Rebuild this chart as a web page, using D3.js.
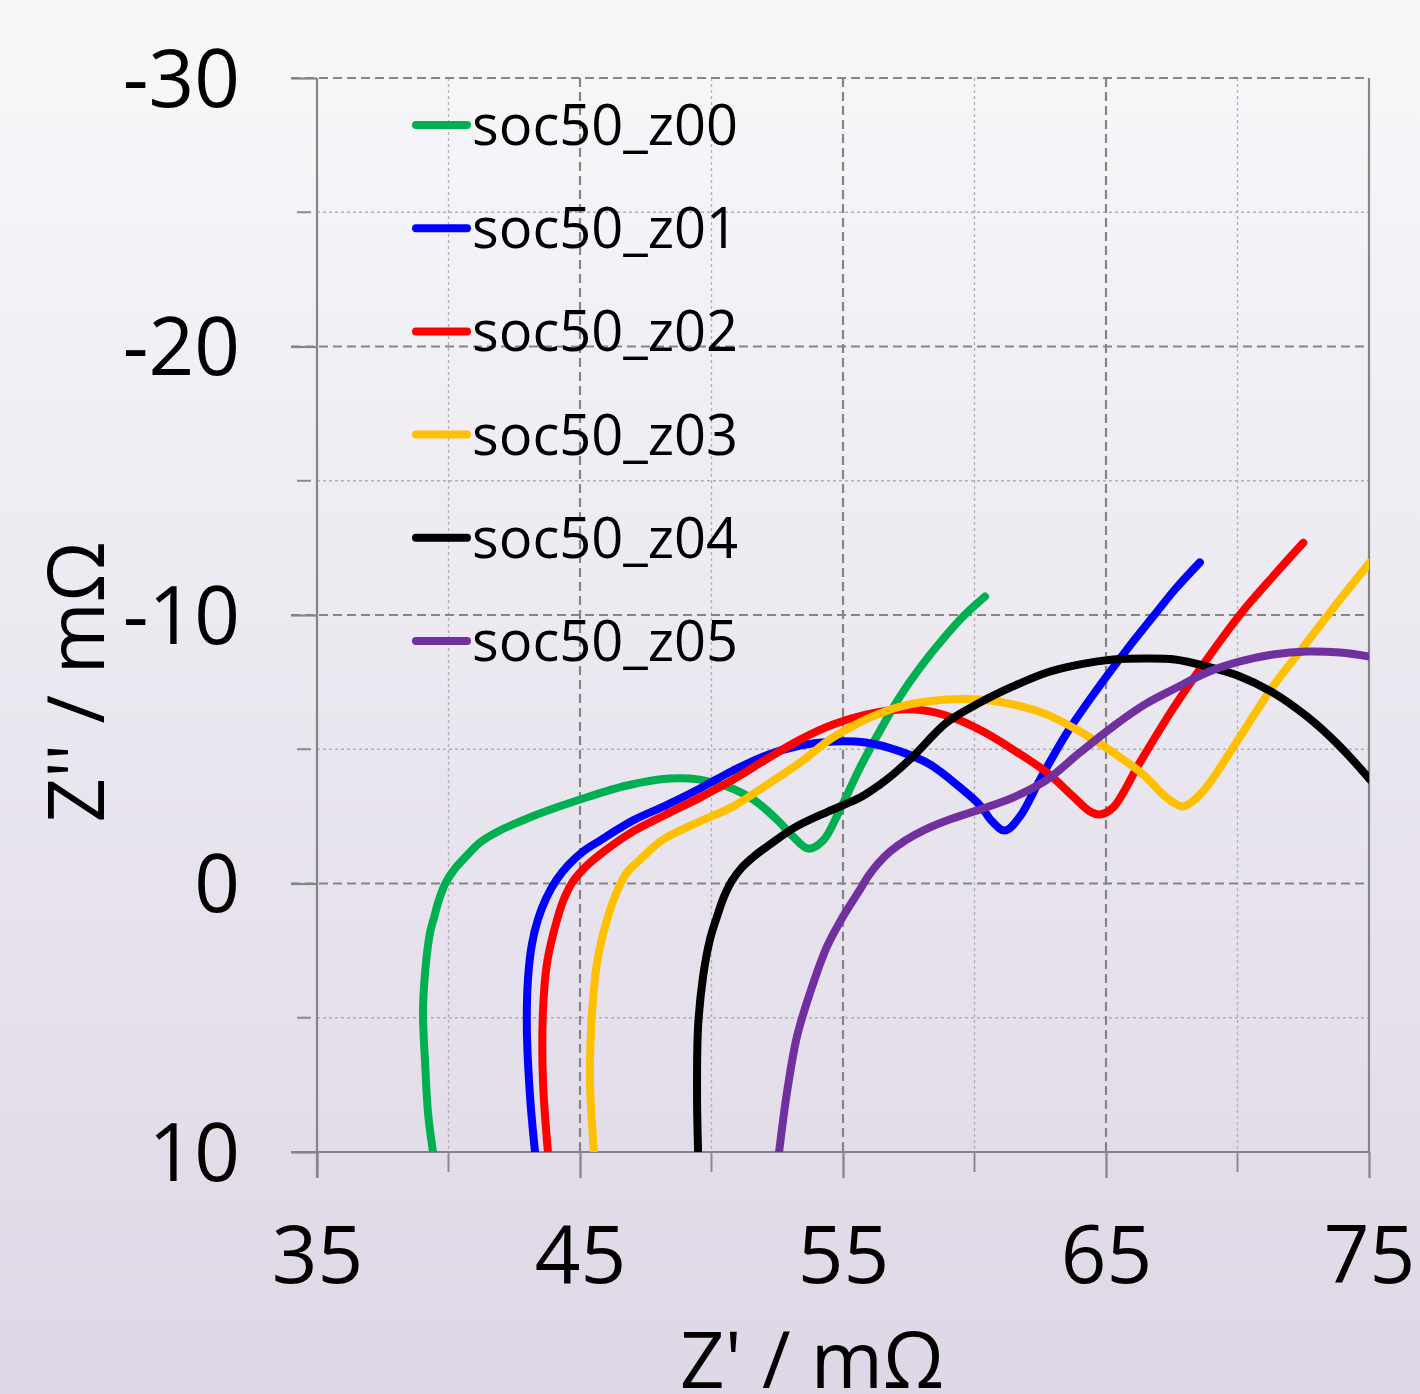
<!DOCTYPE html>
<html>
<head>
<meta charset="utf-8">
<script src="https://cdn.jsdelivr.net/npm/d3@7"></script>
<style>
  body { margin: 0; }
  svg text { font-family: "Open Sans", "Noto Sans", sans-serif; fill: #000; }
</style>
</head>
<body>
<svg id="chart" width="1420" height="1394"></svg>
<script>
// Nyquist plot, soc50 series
const seriesNames = ['soc50_z00', 'soc50_z01', 'soc50_z02', 'soc50_z03', 'soc50_z04', 'soc50_z05'];
const seriesColors = ['#00b050', '#0000ff', '#ff0000', '#ffc000', '#000000', '#7030a0'];

// [Z' (mOhm), Z'' (mOhm)]
const z00 = [[39.41,10.0],[39.22,8.53],[39.11,6.67],[39.03,4.80],[39.11,3.31],[39.30,1.82],[39.45,1.27],[39.64,0.60],
  [39.90,-0.04],[40.25,-0.56],[40.67,-1.01],[41.20,-1.53],[41.88,-1.94],[42.72,-2.31],[43.67,-2.68],[45.00,-3.13],
  [46.79,-3.65],[48.42,-3.91],[49.56,-3.87],[50.59,-3.61],[51.58,-3.13],[52.49,-2.38],[53.10,-1.75],[53.67,-1.30],
  [54.24,-1.60],[54.89,-2.76],[55.65,-4.32],[56.41,-5.70],[57.17,-6.97],[57.93,-8.04],[58.88,-9.20],[59.64,-10.02],
  [60.40,-10.69]];
const z01 = [[43.29,10.0],[43.10,7.93],[42.98,5.44],[43.02,3.58],[43.17,2.27],[43.40,1.34],[43.71,0.56],[44.09,-0.11],
  [44.54,-0.67],[45.11,-1.19],[45.76,-1.60],[47.02,-2.35],[48.27,-2.91],[49.56,-3.54],[50.82,-4.21],[52.07,-4.77],
  [53.37,-5.14],[54.62,-5.29],[55.87,-5.25],[57.17,-4.92],[58.31,-4.43],[59.45,-3.58],[60.21,-2.91],[60.67,-2.31],
  [61.16,-1.97],[61.73,-2.50],[62.49,-3.87],[63.52,-5.62],[64.66,-7.23],[65.80,-8.72],[66.79,-9.94],[67.62,-10.95],
  [68.57,-11.96]];
const z02 = [[43.78,10.0],[43.59,7.30],[43.59,4.80],[43.75,2.94],[44.13,1.34],[44.43,0.48],[44.73,-0.07],[45.19,-0.60],
  [45.76,-1.08],[47.02,-1.94],[48.27,-2.57],[49.56,-3.20],[50.82,-3.87],[52.07,-4.62],[53.37,-5.36],[54.62,-5.92],
  [55.87,-6.29],[57.17,-6.48],[58.31,-6.41],[59.45,-6.07],[60.40,-5.62],[61.46,-4.99],[62.76,-4.13],[63.75,-3.24],
  [64.39,-2.68],[64.77,-2.57],[65.27,-2.83],[66.29,-4.51],[67.56,-6.53],[68.83,-8.34],[70.10,-10.02],[71.36,-11.45],
  [72.50,-12.69]];
const z03 = [[45.53,10.0],[45.38,7.30],[45.46,4.80],[45.65,2.94],[46.03,1.34],[46.44,0.22],[46.79,-0.41],[47.28,-0.89],
  [48.16,-1.64],[49.56,-2.31],[50.82,-2.87],[52.07,-3.65],[53.37,-4.51],[54.62,-5.44],[55.87,-6.11],[57.17,-6.59],
  [58.95,-6.85],[60.21,-6.85],[61.46,-6.67],[62.76,-6.29],[64.01,-5.66],[65.27,-4.88],[66.41,-4.06],[67.17,-3.31],
  [67.62,-2.98],[67.93,-2.87],[68.38,-3.13],[68.84,-3.61],[70.10,-5.47],[71.35,-7.34],[72.64,-8.98],[73.90,-10.58],
  [75.04,-11.96]];
const z04 = [[49.49,10.0],[49.45,7.78],[49.49,5.33],[49.68,3.46],[49.94,2.09],[50.21,1.23],[50.48,0.48],[50.78,-0.11],
  [51.16,-0.60],[51.65,-1.04],[52.22,-1.45],[53.17,-2.09],[54.43,-2.68],[55.65,-3.20],[56.41,-3.69],[56.90,-4.06],
  [57.66,-4.73],[58.95,-6.00],[60.21,-6.74],[61.46,-7.34],[62.76,-7.86],[64.01,-8.16],[65.27,-8.34],[66.56,-8.38],
  [67.62,-8.34],[68.84,-8.08],[70.10,-7.71],[71.35,-7.11],[72.64,-6.22],[73.90,-5.10],[75.04,-3.87]];
const z05 = [[52.57,10.0],[52.87,7.78],[53.25,5.70],[53.75,4.06],[54.39,2.35],[55.00,1.23],[55.65,0.22],[55.95,-0.26],
  [56.33,-0.74],[56.79,-1.19],[57.36,-1.60],[58.12,-2.01],[58.95,-2.35],[60.21,-2.76],[61.46,-3.20],[62.76,-3.87],
  [64.01,-4.88],[65.27,-5.85],[66.48,-6.67],[67.62,-7.26],[68.84,-7.86],[70.10,-8.27],[71.35,-8.53],[72.64,-8.64],
  [73.90,-8.60],[75.04,-8.45]];
const seriesData = [z00, z01, z02, z03, z04, z05];

const xMajor = [35, 45, 55, 65, 75];
const xMinor = [40, 50, 60, 70];
const yMajor = [-30, -20, -10, 0, 10];
const yMinor = [-25, -15, -5, 5];

const svg = d3.select('#chart');

// background gradient
const defs = svg.append('defs');
const grad = defs.append('linearGradient').attr('id', 'bg')
    .attr('x1', 0).attr('y1', 0).attr('x2', 0).attr('y2', 1);
grad.append('stop').attr('offset', '0%').attr('stop-color', '#f8f8fa');
grad.append('stop').attr('offset', '100%').attr('stop-color', '#ded7e6');
svg.append('rect').attr('width', 1420).attr('height', 1394).attr('fill', 'url(#bg)');

const x = d3.scaleLinear().domain([35, 75]).range([317, 1369]);
const y = d3.scaleLinear().domain([-30, 10]).range([78, 1152]);

defs.append('clipPath').attr('id', 'plot')
    .append('rect').attr('x', 317).attr('y', 60).attr('width', 1052).attr('height', 1092);

// minor grid
svg.selectAll('.vminor').data(xMinor).enter().append('line')
    .attr('x1', d => x(d)).attr('x2', d => x(d)).attr('y1', 78).attr('y2', 1152)
    .attr('stroke', '#b0b0b4').attr('stroke-width', 1.3).attr('stroke-dasharray', '3,3');
svg.selectAll('.hminor').data(yMinor).enter().append('line')
    .attr('x1', 317).attr('x2', 1369).attr('y1', d => y(d)).attr('y2', d => y(d))
    .attr('stroke', '#b0b0b4').attr('stroke-width', 1.3).attr('stroke-dasharray', '3,3');
// minor ticks
svg.selectAll('.vminortick').data(xMinor).enter().append('line')
    .attr('x1', d => x(d)).attr('x2', d => x(d)).attr('y1', 1152).attr('y2', 1172)
    .attr('stroke', '#8a8a8a').attr('stroke-width', 2);
svg.selectAll('.hminortick').data(yMinor).enter().append('line')
    .attr('x1', 297).attr('x2', 311).attr('y1', d => y(d)).attr('y2', d => y(d))
    .attr('stroke', '#8a8a8a').attr('stroke-width', 2);

// major grid
svg.selectAll('.vmajor').data(xMajor.slice(1, 4)).enter().append('line')
    .attr('x1', d => x(d)).attr('x2', d => x(d)).attr('y1', 78).attr('y2', 1152)
    .attr('stroke', '#858585').attr('stroke-width', 2.2).attr('stroke-dasharray', '9,5');
svg.selectAll('.hmajor').data(yMajor.slice(0, 4)).enter().append('line')
    .attr('x1', 291).attr('x2', 1369).attr('y1', d => y(d)).attr('y2', d => y(d))
    .attr('stroke', '#858585').attr('stroke-width', 2.2).attr('stroke-dasharray', '9,5');
// right border
svg.append('line').attr('x1', 1369).attr('x2', 1369).attr('y1', 78).attr('y2', 1152)
    .attr('stroke', '#858585').attr('stroke-width', 2.2);

// axes
const xAxis = d3.axisBottom(x).tickValues(xMajor).tickSize(26).tickFormat(d => d);
const gx = svg.append('g').attr('transform', 'translate(0,1152)').call(xAxis);
gx.select('.domain').attr('stroke', '#858585').attr('stroke-width', 2.2).attr('d', 'M291,0H1369');
gx.selectAll('.tick line').attr('stroke', '#858585').attr('stroke-width', 2.2);
gx.selectAll('text').attr('y', 131).attr('dy', null).attr('font-size', 80)
    .style('font-family', '"Open Sans", "Noto Sans", sans-serif').attr('fill', '#000');

const yAxis = d3.axisLeft(y).tickValues(yMajor).tickSize(26).tickFormat(d => d);
const gy = svg.append('g').attr('transform', 'translate(317,0)').call(yAxis);
gy.select('.domain').attr('stroke', '#858585').attr('stroke-width', 2.2).attr('d', 'M0,78V1178');
gy.selectAll('.tick line').attr('stroke', '#858585').attr('stroke-width', 2.2);
gy.selectAll('text').attr('x', -77).attr('dy', 28).attr('font-size', 80)
    .style('font-family', '"Open Sans", "Noto Sans", sans-serif').attr('fill', '#000');

// curves
const line = d3.line()
    .x(d => x(d[0]))
    .y(d => y(d[1]))
    .curve(d3.curveCatmullRom.alpha(0.5));

svg.append('g').attr('clip-path', 'url(#plot)')
    .selectAll('path')
    .data(seriesData)
    .enter()
    .append('path')
    .attr('d', line)
    .attr('fill', 'none')
    .attr('stroke', (d, i) => seriesColors[i])
    .attr('stroke-width', 8)
    .attr('stroke-linecap', 'round')
    .attr('stroke-linejoin', 'round');

// legend
const legend = svg.append('g').selectAll('g')
    .data(seriesNames)
    .enter()
    .append('g')
    .attr('transform', (d, i) => `translate(0,${125 + i * 103.2})`);
legend.append('line')
    .attr('x1', 416).attr('x2', 467).attr('y1', 0).attr('y2', 0)
    .attr('stroke', (d, i) => seriesColors[i])
    .attr('stroke-width', 8)
    .attr('stroke-linecap', 'round');
legend.append('text')
    .attr('x', 472).attr('y', 20)
    .attr('font-size', 56)
    .text(d => d);

// axis titles
svg.append('text')
    .attr('x', 812).attr('y', 1388)
    .attr('text-anchor', 'middle')
    .attr('font-size', 78)
    .text("Z' / mΩ");

svg.append('text')
    .attr('transform', 'translate(104,682) rotate(-90)')
    .attr('text-anchor', 'middle')
    .attr('font-size', 78)
    .text("Z'' / mΩ");
</script>
</body>
</html>
